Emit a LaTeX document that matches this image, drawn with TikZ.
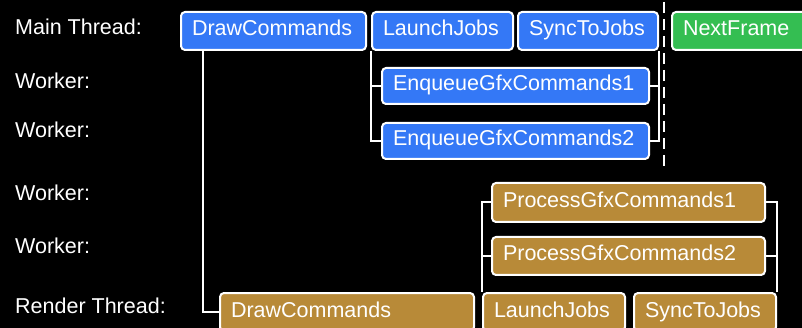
\documentclass[tikz,border=0pt]{standalone}
\usepackage{fontspec}
\setmainfont{Liberation Sans}
\definecolor{jobblue}{RGB}{52,120,246}
\definecolor{framegreen}{RGB}{52,190,82}
\definecolor{rendergold}{RGB}{184,138,56}
\begin{document}
\begin{tikzpicture}[x=1pt,y=-1pt,
  lbl/.style={anchor=base west,text=white,font=\fontsize{21.5}{24}\selectfont,inner sep=0pt},
  bx/.style={draw=white,line width=2pt,rounded corners=4pt,anchor=north west,
    text=white,font=\fontsize{21.5}{24}\selectfont,inner xsep=11pt,inner ysep=0pt,align=left,
    text height=16pt,text depth=6pt},
  mainbox/.style={bx,fill=jobblue},
  nextbox/.style={bx,fill=framegreen},
  renderbox/.style={bx,fill=rendergold},
  link/.style={draw=white,line width=2pt},
  divider/.style={draw=white,line width=2pt,dash pattern=on 11pt off 6pt}]
  \fill[black] (0,0) rectangle (802,328);
  \useasboundingbox (0,0) rectangle (802,328);
  \clip (0,0) rectangle (802,328);

  % thread labels
  \node[lbl] (lmain) at (15,35) {Main Thread:};
  \node[lbl] (lw1) at (15,89) {Worker:};
  \node[lbl] (lw2) at (15,138) {Worker:};
  \node[lbl] (lw3) at (15,201) {Worker:};
  \node[lbl] (lw4) at (15,254) {Worker:};
  \node[lbl] (lrender) at (15,313) {Render Thread:};

  % frame boundary
  \coordinate (divtop) at (664,2);
  \coordinate (divbot) at (664,170);
  \draw[divider] (divtop) -- (divbot);

  % main thread
  \node[mainbox,text width=163pt,minimum height=38pt] (dcm) at (180,11) {DrawCommands};
  \node[mainbox,text width=119pt,minimum height=38pt] (ljm) at (371,11) {LaunchJobs};
  \node[mainbox,text width=118pt,minimum height=38pt] (sjm) at (517,11) {SyncToJobs};
  \node[nextbox,text width=138pt,minimum height=38pt] (nf) at (671,11) {NextFrame};

  % worker jobs recording commands
  \node[mainbox,text width=245pt,minimum height=36pt] (enq1) at (381,67) {EnqueueGfxCommands1};
  \node[mainbox,text width=245pt,minimum height=36pt] (enq2) at (381,122) {EnqueueGfxCommands2};

  % render thread
  \node[renderbox,text width=232pt,minimum height=38pt] (dcr) at (219,292) {DrawCommands};
  \node[renderbox,text width=120pt,minimum height=38pt] (ljr) at (482,292) {LaunchJobs};
  \node[renderbox,text width=120pt,minimum height=38pt] (sjr) at (633,292) {SyncToJobs};

  % worker jobs processing commands
  \node[renderbox,text width=251pt,minimum height=39pt] (p1) at (491,182) {ProcessGfxCommands1};
  \node[renderbox,text width=251pt,minimum height=38pt] (p2) at (491,236) {ProcessGfxCommands2};

  % connectors
  \draw[link] ([xshift=23pt]dcm.south west) |- (dcr.west);
  \draw[link] (ljm.south west) |- (enq2.west);
  \draw[link] (ljm.south west |- enq1.west) -- (enq1.west);
  \draw[link] (sjm.south east) |- (enq2.east);
  \draw[link] (sjm.south east |- enq1.east) -- (enq1.east);
  \draw[link] (p1.west) -| (ljr.north west);
  \draw[link] (ljr.north west |- p2.west) -- (p2.west);
  \draw[link] (p1.east) -| (sjr.north east);
  \draw[link] (sjr.north east |- p2.east) -- (p2.east);
\end{tikzpicture}
\end{document}
